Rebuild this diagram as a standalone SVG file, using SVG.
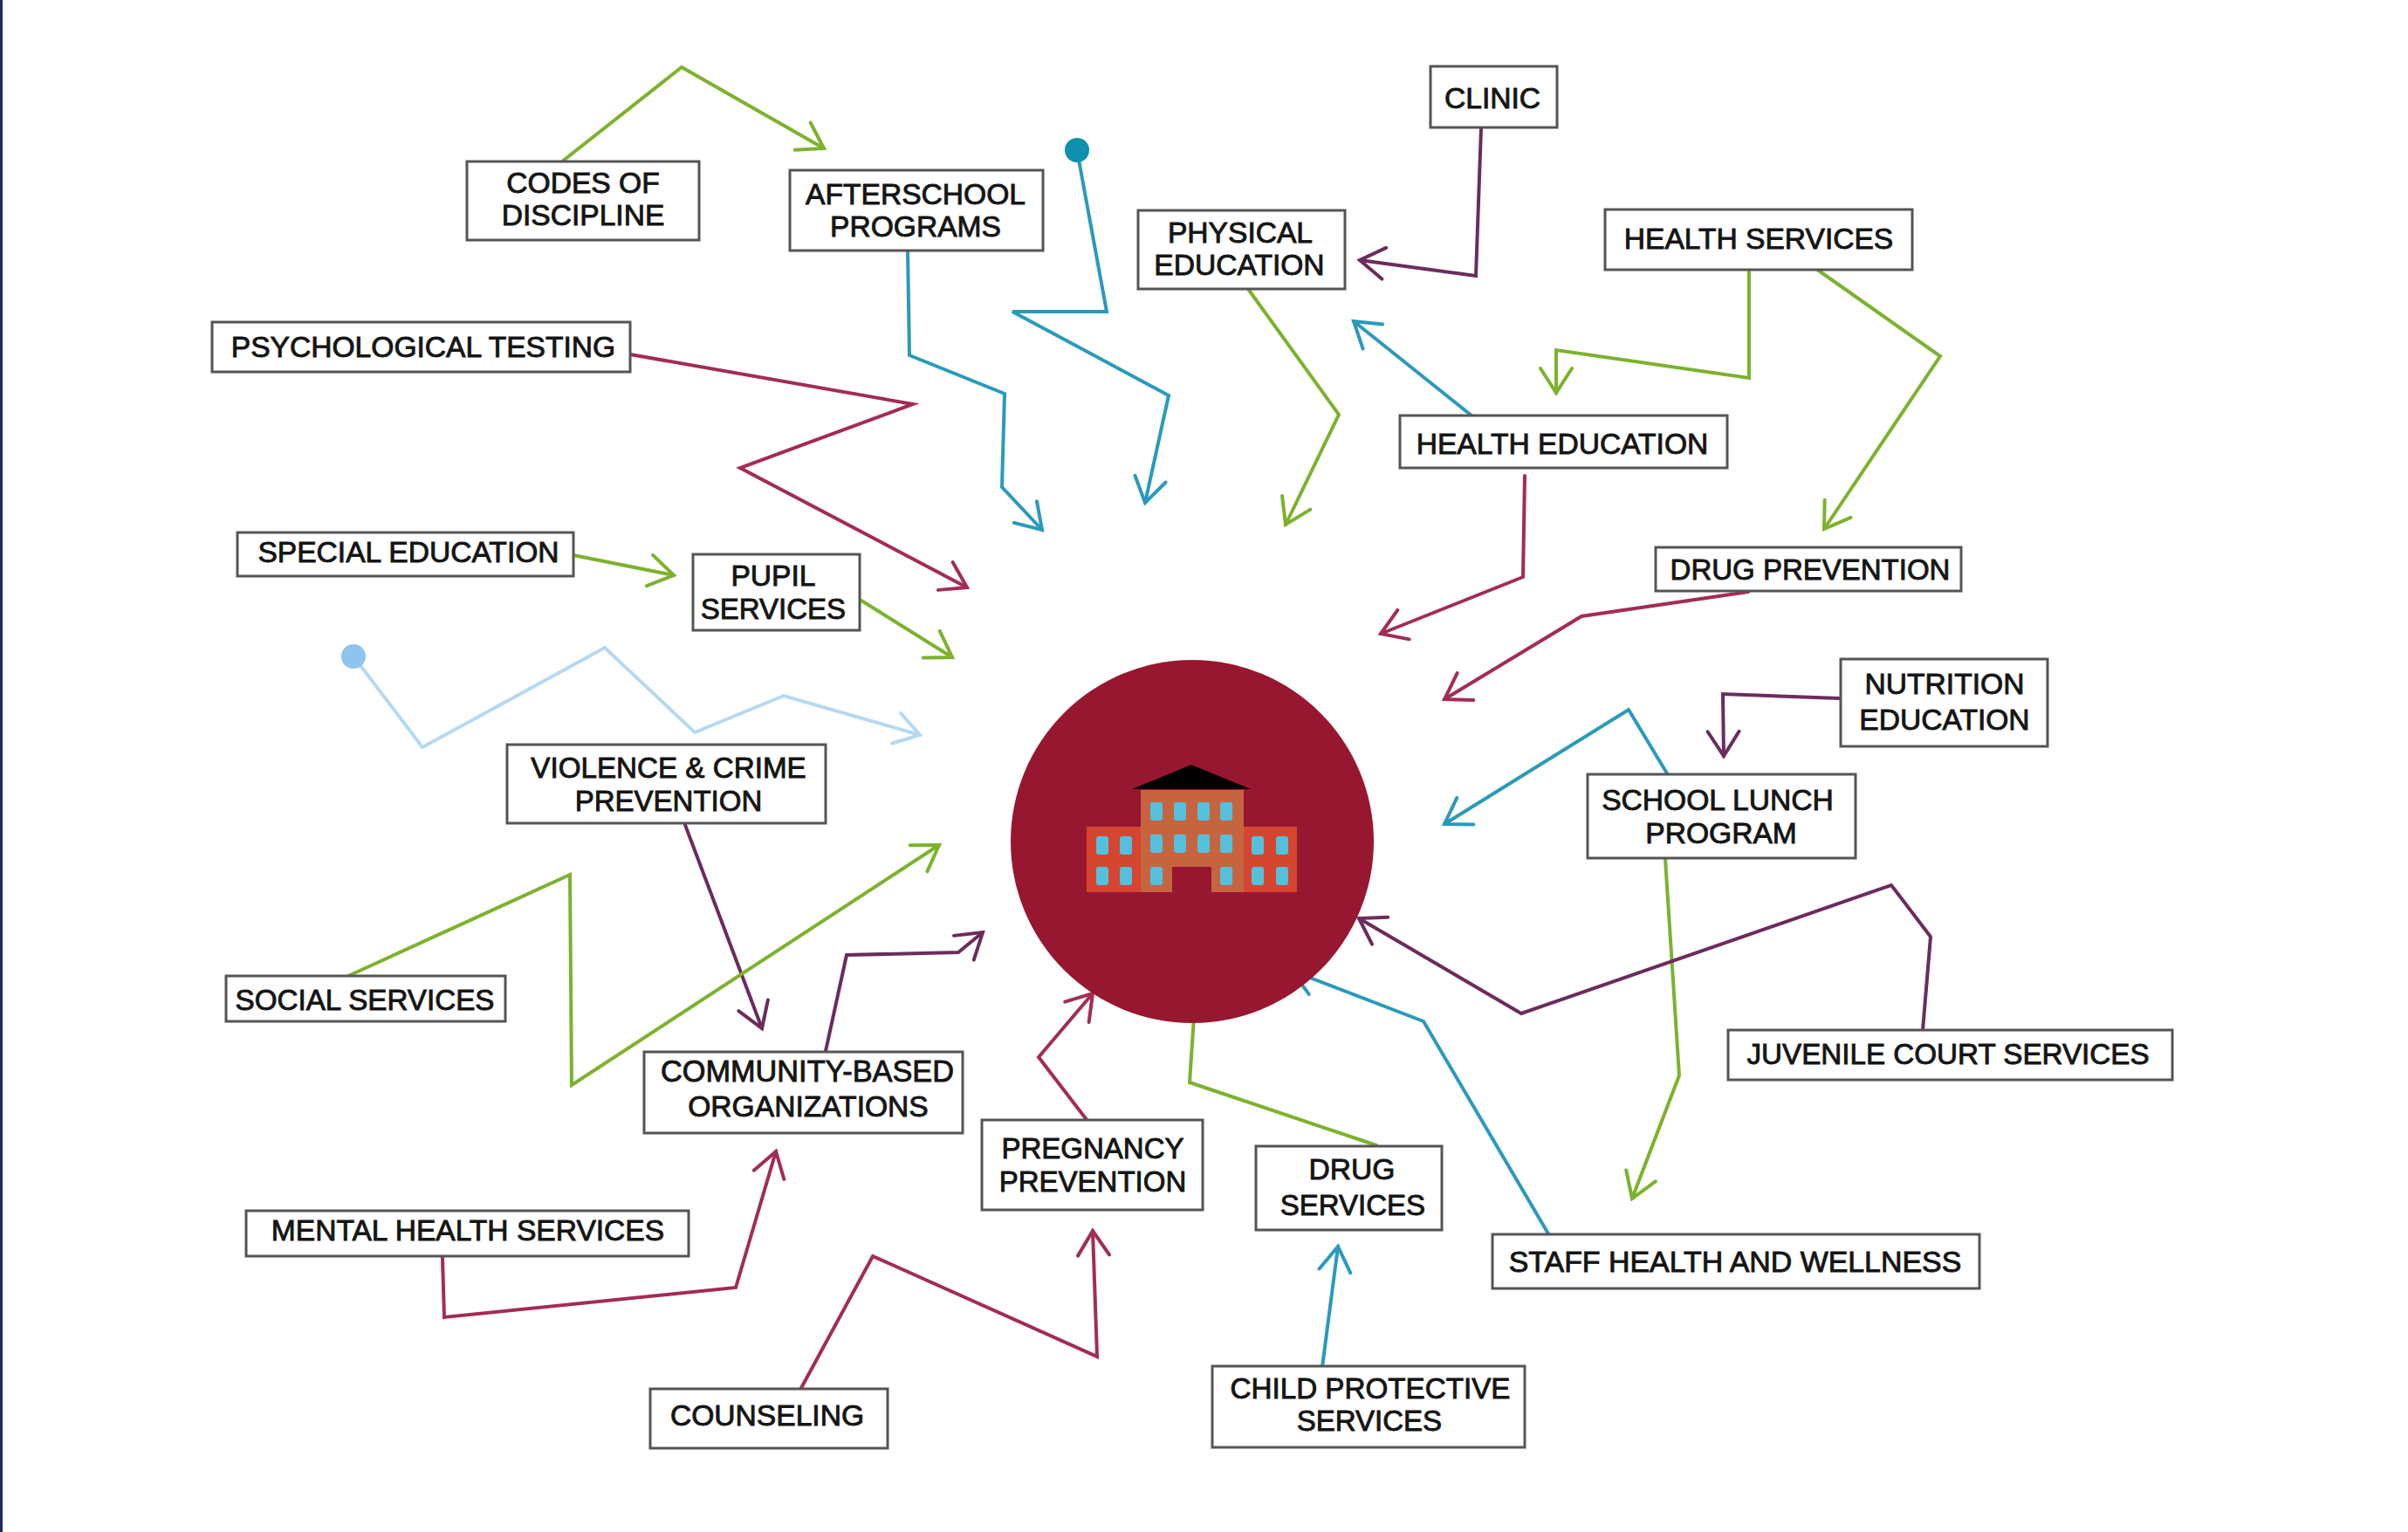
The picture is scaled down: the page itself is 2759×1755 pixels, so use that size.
<svg xmlns="http://www.w3.org/2000/svg" width="2759" height="1755" viewBox="0 0 2759 1755">
<style>
.box{fill:#fff;stroke:#555;stroke-width:3}
.lbl{font-family:"Liberation Sans",Arial,sans-serif;font-size:33.6px;fill:#151515;stroke:#151515;stroke-width:.9;text-anchor:middle}
.c{fill:none;stroke-width:4;stroke-linejoin:miter;stroke-linecap:round}
.g{stroke:#7db22d}.b{stroke:#2a9abb}.r{stroke:#a32c52}.p{stroke:#6b2c5c}.l{stroke:#b6d9f2}
.win{fill:#55c0dc}
</style>
<defs>
<marker id="mg" markerUnits="userSpaceOnUse" markerWidth="40" markerHeight="44" refX="33" refY="22" orient="auto" overflow="visible"><path d="M5,4 L33,22 L5,40" fill="none" stroke="#7db22d" stroke-width="4" stroke-linecap="round"/></marker>
<marker id="mb" markerUnits="userSpaceOnUse" markerWidth="40" markerHeight="44" refX="33" refY="22" orient="auto" overflow="visible"><path d="M5,4 L33,22 L5,40" fill="none" stroke="#2a9abb" stroke-width="4" stroke-linecap="round"/></marker>
<marker id="mr" markerUnits="userSpaceOnUse" markerWidth="40" markerHeight="44" refX="33" refY="22" orient="auto" overflow="visible"><path d="M5,4 L33,22 L5,40" fill="none" stroke="#a32c52" stroke-width="4" stroke-linecap="round"/></marker>
<marker id="mp" markerUnits="userSpaceOnUse" markerWidth="40" markerHeight="44" refX="33" refY="22" orient="auto" overflow="visible"><path d="M5,4 L33,22 L5,40" fill="none" stroke="#6b2c5c" stroke-width="4" stroke-linecap="round"/></marker>
<marker id="ml" markerUnits="userSpaceOnUse" markerWidth="40" markerHeight="44" refX="33" refY="22" orient="auto" overflow="visible"><path d="M5,4 L33,22 L5,40" fill="none" stroke="#b6d9f2" stroke-width="4" stroke-linecap="round"/></marker>
</defs>
<rect width="2759" height="1755" fill="#fff"/>
<rect width="3" height="1755" fill="#1f2d5c"/>
<g id="connectors">
<polyline class="c g" marker-end="url(#mg)" points="644,185 781,77 944,170"/>
<polyline class="c b" marker-end="url(#mb)" points="1040,287 1042,407 1151,451 1148,558 1194,607"/>
<polyline class="c b" marker-end="url(#mb)" points="1234,172 1268,357 1160,357 1339,453 1312,576"/>
<circle cx="1234" cy="172" r="14" fill="#0e90ae"/>
<polyline class="c g" marker-end="url(#mg)" points="1430,331 1534,475 1473,601"/>
<polyline class="c p" marker-end="url(#mp)" points="1697,147 1691,316 1558,298"/>
<polyline class="c b" marker-end="url(#mb)" points="1686,476 1551,368"/>
<polyline class="c g" marker-end="url(#mg)" points="2004,308 2004,433 1783,401 1783,450"/>
<polyline class="c g" marker-end="url(#mg)" points="2081,308 2223,408 2090,606"/>
<polyline class="c r" marker-end="url(#mr)" points="1747,545 1745,661 1582,726"/>
<polyline class="c r" marker-end="url(#mr)" points="2003,678 1812,706 1655,801"/>
<polyline class="c p" marker-end="url(#mp)" points="2108,800 1974,795 1975,866"/>
<polyline class="c b" marker-end="url(#mb)" points="1910,886 1866,813 1655,944"/>
<polyline class="c g" marker-end="url(#mg)" points="1908,984 1924,1232 1870,1373"/>
<polyline class="c p" marker-end="url(#mp)" points="2203,1180 2212,1073 2167,1014 1743,1161 1557,1052"/>
<polyline class="c b" marker-end="url(#mb)" points="1775,1415 1631,1170 1480,1112"/>
<polyline class="c g" points="1577,1312 1363,1240 1368,1165"/>
<polyline class="c b" marker-end="url(#mb)" points="1515,1566 1533,1428"/>
<polyline class="c r" marker-end="url(#mr)" points="1246,1284 1190,1211 1252,1138"/>
<polyline class="c r" marker-end="url(#mr)" points="918,1590 1000,1439 1257,1554 1252,1410"/>
<polyline class="c r" marker-end="url(#mr)" points="507,1441 509,1509 843,1475 889,1319"/>
<polyline class="c p" marker-end="url(#mp)" points="946,1204 970,1094 1098,1091 1126,1068"/>
<polyline class="c p" marker-end="url(#mp)" points="785,945 873,1178"/>
<polyline class="c g" marker-end="url(#mg)" points="399,1118 653,1002 655,1243 1076,968"/>
<polyline class="c l" marker-end="url(#ml)" points="405,752 484,856 693,742 796,839 898,797 1054,842"/>
<circle cx="405" cy="752" r="14" fill="#8fc4ee"/>
<polyline class="c r" marker-end="url(#mr)" points="722,406 1046,463 848,536 1108,673"/>
<polyline class="c g" marker-end="url(#mg)" points="657,636 772,659"/>
<polyline class="c g" marker-end="url(#mg)" points="987,688 1091,753"/>
</g>
<g id="school">
<circle cx="1366" cy="964" r="208" fill="#981730"/>
<rect x="1245" y="947" width="241" height="75" fill="#d5452f"/>
<rect x="1307" y="905" width="118" height="117" fill="#c76440"/>
<polygon points="1297,904 1365,876 1433,904" fill="#000"/>
<rect x="1343" y="993" width="45" height="31" fill="#981730"/>
<g class="win">
<rect x="1318" y="919" width="14" height="21" rx="3"/><rect x="1345" y="919" width="14" height="21" rx="3"/><rect x="1372" y="919" width="14" height="21" rx="3"/><rect x="1398" y="919" width="14" height="21" rx="3"/>
<rect x="1318" y="956" width="14" height="21" rx="3"/><rect x="1345" y="956" width="14" height="21" rx="3"/><rect x="1372" y="956" width="14" height="21" rx="3"/><rect x="1398" y="956" width="14" height="21" rx="3"/>
<rect x="1318" y="993" width="14" height="21" rx="3"/><rect x="1398" y="993" width="14" height="21" rx="3"/>
<rect x="1256" y="958" width="14" height="21" rx="3"/><rect x="1283" y="958" width="14" height="21" rx="3"/><rect x="1256" y="993" width="14" height="21" rx="3"/><rect x="1283" y="993" width="14" height="21" rx="3"/>
<rect x="1434" y="958" width="14" height="21" rx="3"/><rect x="1462" y="958" width="14" height="21" rx="3"/><rect x="1434" y="993" width="14" height="21" rx="3"/><rect x="1462" y="993" width="14" height="21" rx="3"/>
</g>
</g>
<g id="codes"><rect class="box" x="535" y="185" width="266" height="90"/><text class="lbl" x="668" y="221">CODES OF</text><text class="lbl" x="668" y="258">DISCIPLINE</text></g>
<g id="afterschool"><rect class="box" x="905" y="195" width="290" height="92"/><text class="lbl" x="1049" y="234">AFTERSCHOOL</text><text class="lbl" x="1049" y="271">PROGRAMS</text></g>
<g id="psych"><rect class="box" x="243" y="369" width="479" height="57"/><text class="lbl" x="485" y="409">PSYCHOLOGICAL TESTING</text></g>
<g id="special"><rect class="box" x="272" y="610" width="385" height="50"/><text class="lbl" x="468" y="644">SPECIAL EDUCATION</text></g>
<g id="pupil"><rect class="box" x="794" y="635" width="191" height="87"/><text class="lbl" x="886" y="671">PUPIL</text><text class="lbl" x="886" y="709" style="font-size:33px">SERVICES</text></g>
<g id="clinic"><rect class="box" x="1639" y="76" width="145" height="70"/><text class="lbl" x="1710" y="124">CLINIC</text></g>
<g id="physical"><rect class="box" x="1304" y="241" width="237" height="90"/><text class="lbl" x="1421" y="278">PHYSICAL</text><text class="lbl" x="1420" y="315">EDUCATION</text></g>
<g id="healthservices"><rect class="box" x="1839" y="240" width="352" height="69"/><text class="lbl" x="2015" y="285">HEALTH SERVICES</text></g>
<g id="healtheducation"><rect class="box" x="1604" y="476" width="375" height="60"/><text class="lbl" x="1790" y="520">HEALTH EDUCATION</text></g>
<g id="drugprevention"><rect class="box" x="1897" y="627" width="350" height="50"/><text class="lbl" x="2074" y="664" style="font-size:33px">DRUG PREVENTION</text></g>
<g id="nutrition"><rect class="box" x="2109" y="755" width="237" height="100"/><text class="lbl" x="2228" y="795">NUTRITION</text><text class="lbl" x="2228" y="836">EDUCATION</text></g>
<g id="schoollunch"><rect class="box" x="1819" y="887" width="307" height="96"/><text class="lbl" x="1968" y="928">SCHOOL LUNCH</text><text class="lbl" x="1972" y="966">PROGRAM</text></g>
<g id="juvenile"><rect class="box" x="1980" y="1180" width="509" height="57"/><text class="lbl" x="2232" y="1219" style="font-size:33.2px">JUVENILE COURT SERVICES</text></g>
<g id="staff"><rect class="box" x="1710" y="1414" width="558" height="62"/><text class="lbl" x="1988" y="1457" style="font-size:33.9px">STAFF HEALTH AND WELLNESS</text></g>
<g id="drugservices"><rect class="box" x="1439" y="1313" width="213" height="96"/><text class="lbl" x="1549" y="1351">DRUG</text><text class="lbl" x="1550" y="1392" style="font-size:33px">SERVICES</text></g>
<g id="child"><rect class="box" x="1389" y="1565" width="358" height="93"/><text class="lbl" x="1570" y="1602" style="font-size:33.2px">CHILD PROTECTIVE</text><text class="lbl" x="1569" y="1639" style="font-size:33px">SERVICES</text></g>
<g id="pregnancy"><rect class="box" x="1125" y="1283" width="253" height="103"/><text class="lbl" x="1252" y="1327" style="font-size:33px">PREGNANCY</text><text class="lbl" x="1252" y="1365" style="font-size:33px">PREVENTION</text></g>
<g id="counseling"><rect class="box" x="745" y="1591" width="272" height="68"/><text class="lbl" x="879" y="1633">COUNSELING</text></g>
<g id="mental"><rect class="box" x="282" y="1387" width="507" height="52"/><text class="lbl" x="536" y="1421">MENTAL HEALTH SERVICES</text></g>
<g id="community"><rect class="box" x="738" y="1205" width="365" height="93"/><text class="lbl" x="925" y="1239" style="font-size:34.3px">COMMUNITY-BASED</text><text class="lbl" x="926" y="1279">ORGANIZATIONS</text></g>
<g id="social"><rect class="box" x="259" y="1118" width="320" height="52"/><text class="lbl" x="418" y="1157" style="font-size:33.2px">SOCIAL SERVICES</text></g>
<g id="violence"><rect class="box" x="581" y="853" width="365" height="90"/><text class="lbl" x="766" y="891" style="font-size:33.2px">VIOLENCE &amp; CRIME</text><text class="lbl" x="766" y="929" style="font-size:33px">PREVENTION</text></g>
</svg>
